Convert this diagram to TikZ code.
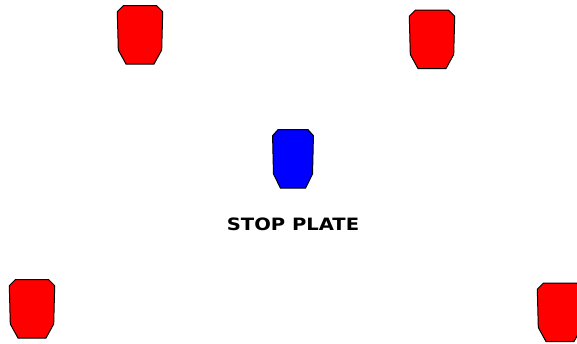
\documentclass[tikz,border=0pt]{standalone}
\usepackage{fontspec}
\usepackage{xcolor}
\usepackage{tikz}
\newfontfamily\platefont{DejaVu Sans}

\begin{document}
\begin{tikzpicture}[
    x=1pt, y=-1pt,
    pl/.style  = {draw=black, line width=1pt, line join=miter},
    lbl/.style = {font=\platefont\bfseries\fontsize{17}{20}\selectfont, text=black, inner sep=0pt},
    pics/plate/.style = {code={
        \draw[pl, fill=#1] (-16.7,-29.3) -- (16.7,-29.3) -- (22.7,-23.3) -- (21.7,15)
            -- (14,29) -- (-14,29) -- (-21.7,15) -- (-22.7,-23.3) -- cycle;
    }},
]
\useasboundingbox (0,0) rectangle (577,343);

%--- the four outer plates
\pic (tl) at (140,35)    {plate=red};
\pic (tr) at (432,39.5)  {plate=red};
\pic (bl) at (32,309)    {plate=red};
\pic (br) at (560,312.5) {plate=red};

%--- stop plate in the middle
\pic[xscale=0.9] (sp) at (293,159) {plate=blue};
\node[lbl] (stop) at (293,224) {\scalebox{1.15}[1]{STOP PLATE}};

\end{tikzpicture}
\end{document}
